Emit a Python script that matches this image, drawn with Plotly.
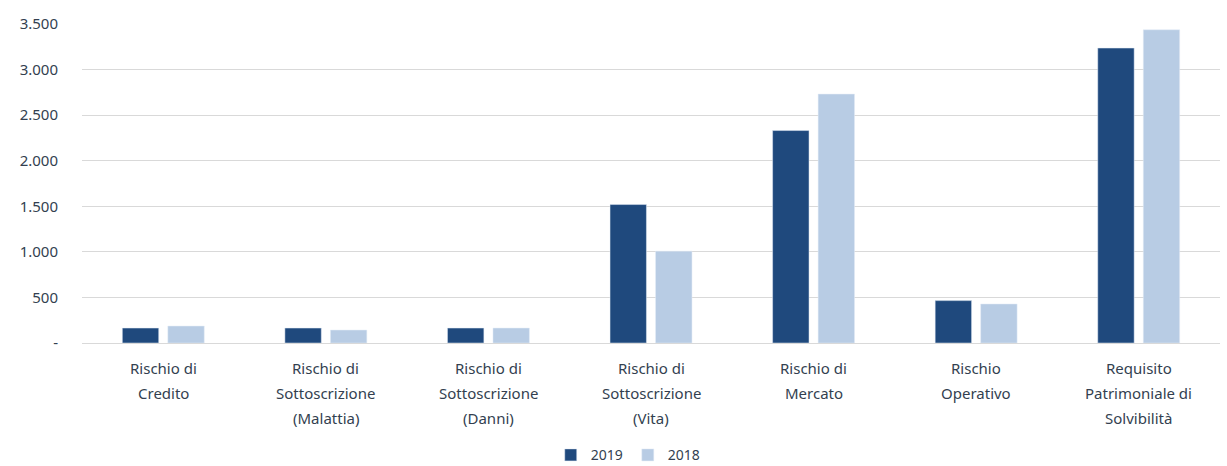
import plotly.graph_objects as go

categories = [
    "Rischio di<br>Credito",
    "Rischio di<br>Sottoscrizione<br>(Malattia)",
    "Rischio di<br>Sottoscrizione<br>(Danni)",
    "Rischio di<br>Sottoscrizione<br>(Vita)",
    "Rischio di<br>Mercato",
    "Rischio<br>Operativo",
    "Requisito<br>Patrimoniale di<br>Solvibilità",
]
values_2019 = [164, 164, 164, 1519, 2331, 465, 3236]
values_2018 = [186, 142, 164, 1008, 2731, 428, 3437]
tick_vals = [0, 500, 1000, 1500, 2000, 2500, 3000, 3500]
tick_text = ["-", "500", "1.000", "1.500", "2.000", "2.500", "3.000", "3.500"]

TEXT = "#333f50"
FONT = "Noto Sans"
xs = list(range(len(categories)))

fig = go.Figure()
fig.add_trace(go.Bar(name="2019", x=xs, y=values_2019, marker_color="#1f497d"))
fig.add_trace(go.Bar(name="2018", x=xs, y=values_2018, marker_color="#b8cce4"))

annotations = []
for i, cat in enumerate(categories):
    for j, line in enumerate(cat.split("<br>")):
        annotations.append(dict(
            x=i, y=0, xref="x", yref="paper", text=line, showarrow=False,
            yanchor="middle", yshift=-(25 + 25 * j),
            font=dict(family=FONT, size=15, color=TEXT),
        ))

fig.update_layout(
    width=1227, height=466,
    margin=dict(l=82, r=7, t=24, b=123, autoexpand=False),
    paper_bgcolor="white", plot_bgcolor="white",
    barmode="group", bargap=0.44, bargroupgap=0.2,
    font=dict(family=FONT, size=15, color=TEXT),
    showlegend=True,
    legend=dict(orientation="h", x=0.48, xanchor="center", y=-0.352, yanchor="middle",
                font=dict(family=FONT, size=14, color=TEXT), itemwidth=30,
                traceorder="normal"),
    annotations=annotations,
)
fig.update_xaxes(range=[-0.5, len(categories) - 0.5], tickvals=xs, showticklabels=False,
                 showline=True, linecolor="#d9d9d9", showgrid=False, zeroline=False)
fig.update_yaxes(range=[0, 3500], tickvals=tick_vals, ticktext=tick_text,
                 showgrid=True, gridcolor="#d9d9d9", zeroline=False,
                 ticks="outside", ticklen=20, tickcolor="white",
                 tickfont=dict(family=FONT, size=15, color=TEXT))

fig.write_html("out.html")
